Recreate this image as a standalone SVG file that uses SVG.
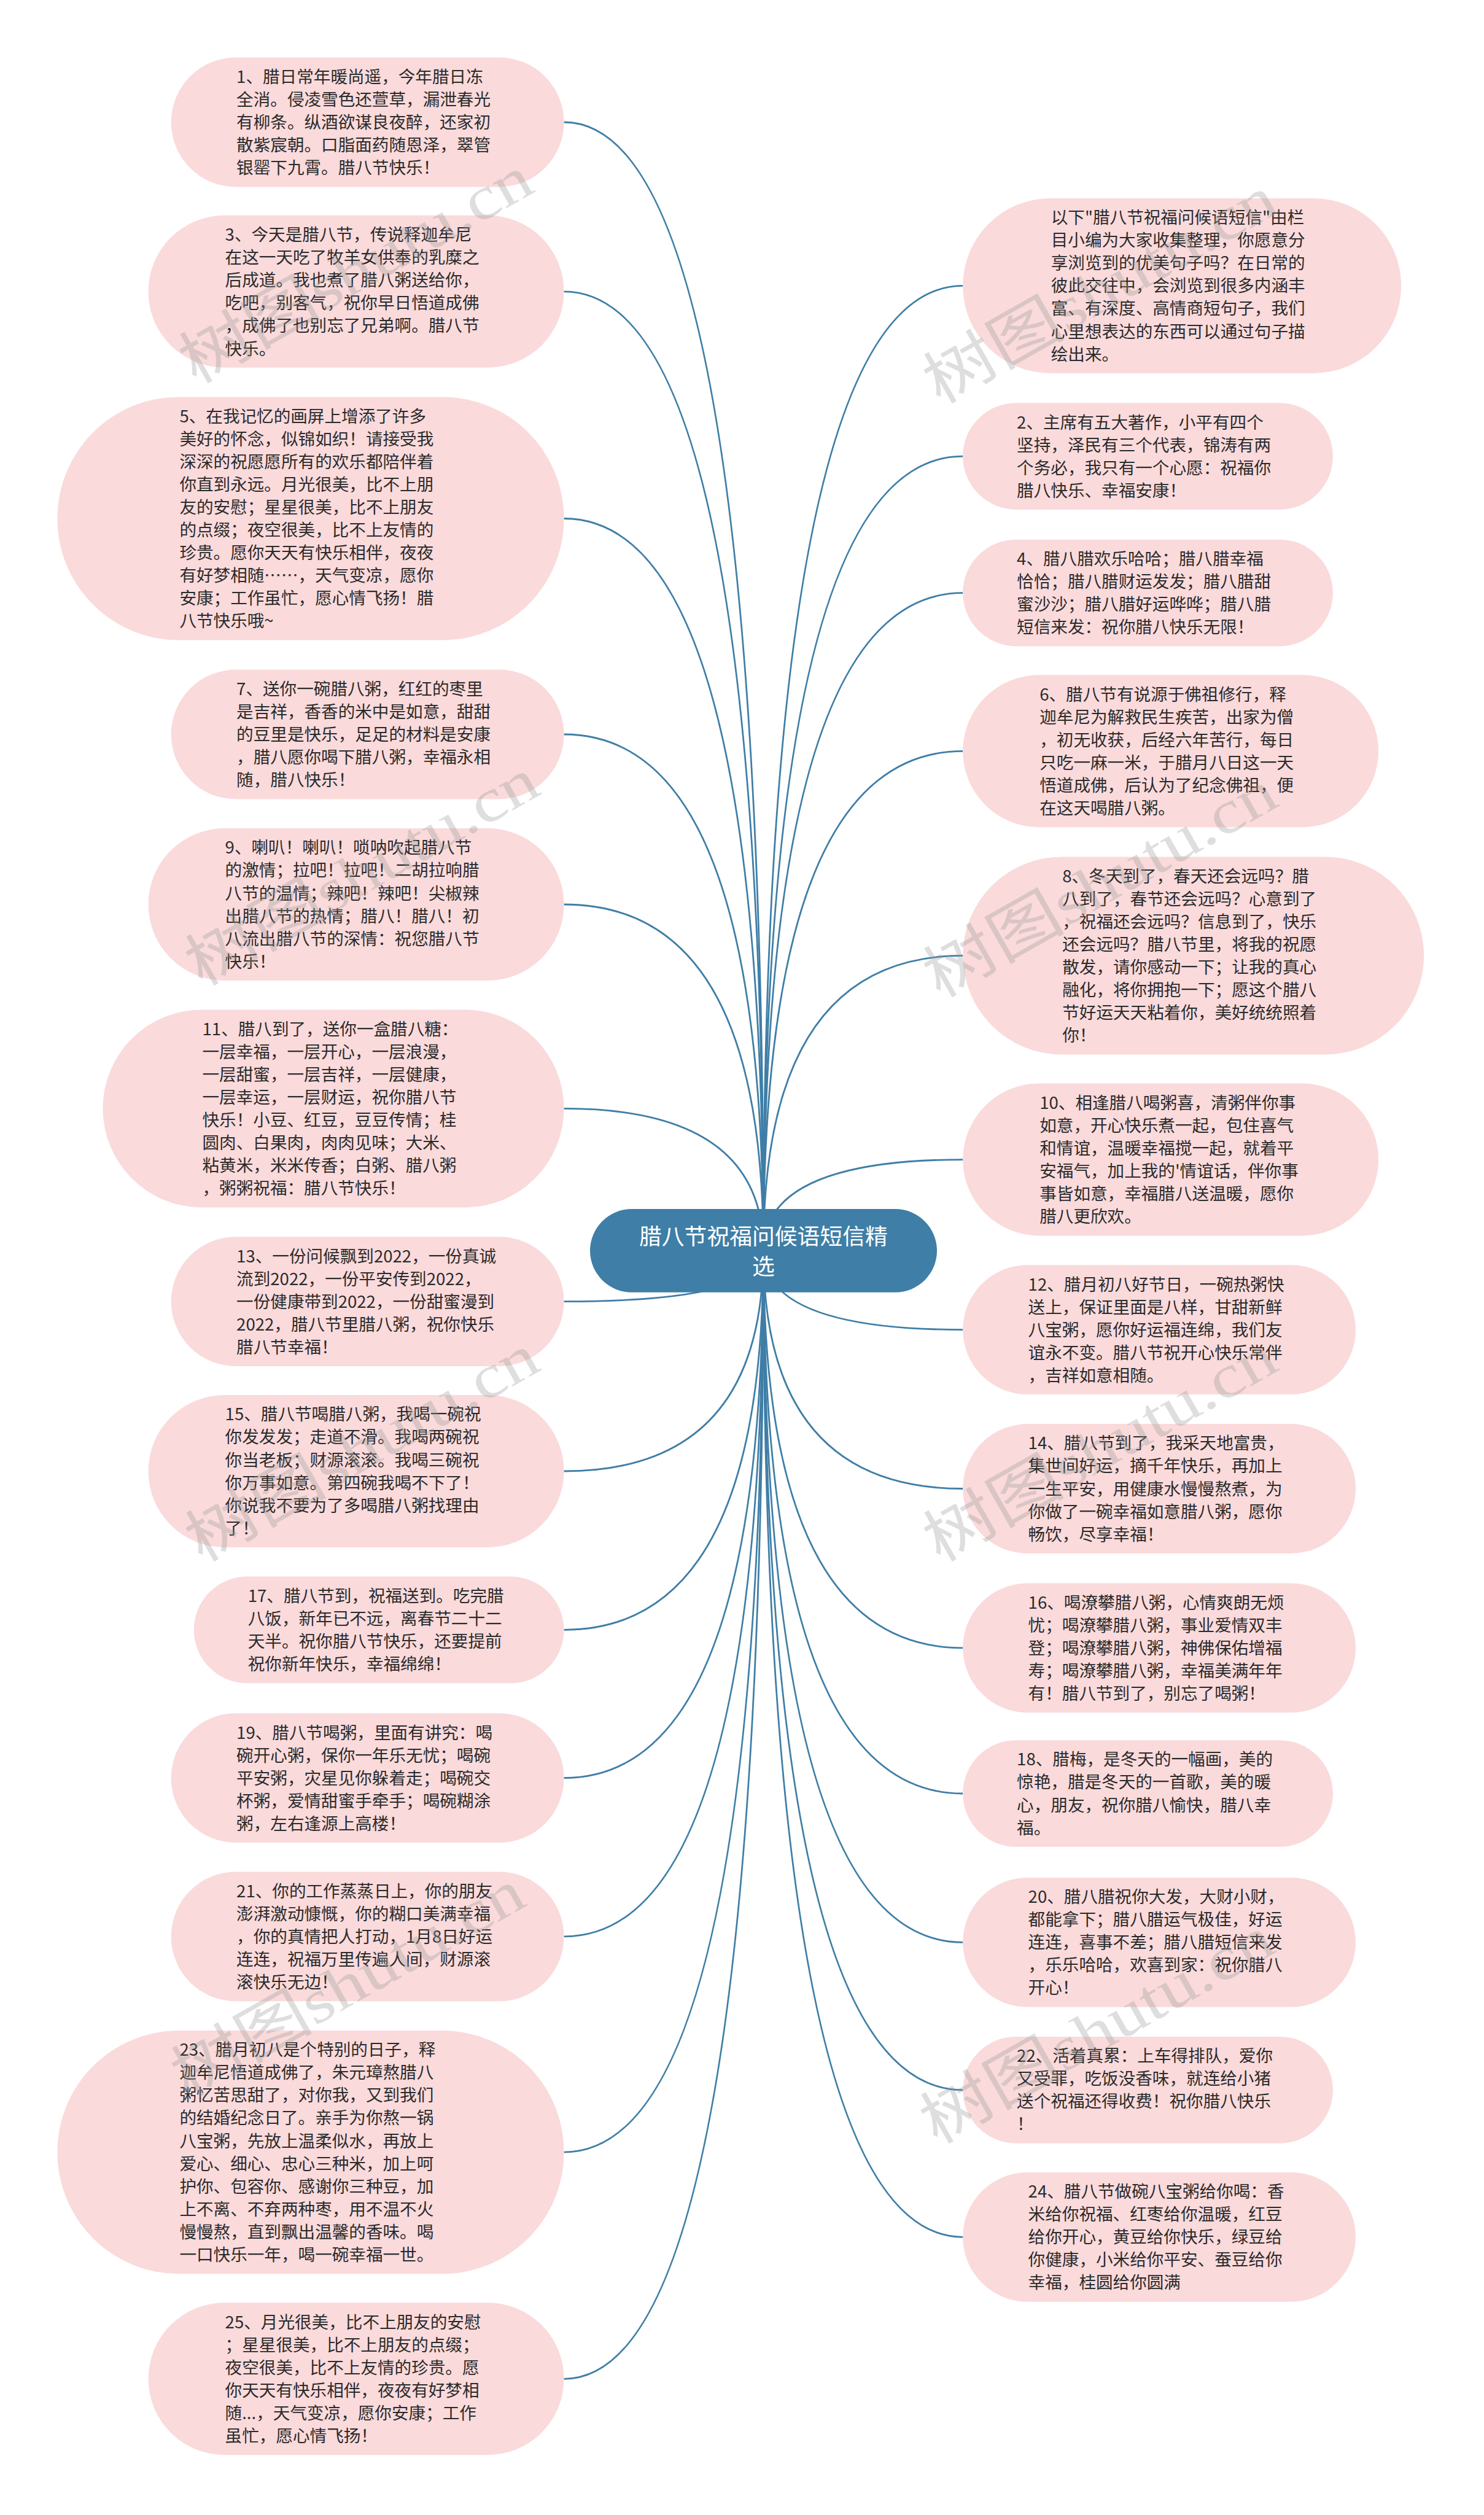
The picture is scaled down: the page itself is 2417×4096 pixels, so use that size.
<svg xmlns="http://www.w3.org/2000/svg" width="2417" height="4096" viewBox="0 0 2417 4096">
<style>
.node rect{fill:#fadadb;}
.node text{font-family:"Noto Sans CJK SC","Noto Sans",sans-serif;font-size:27.6px;fill:#2b2b2b;}
.conn path{fill:none;stroke:#3f7ea6;stroke-width:2.8;}
#center rect{fill:#3f7ea6;}
#center text{font-family:"Noto Sans CJK SC","Noto Sans",sans-serif;font-size:36.8px;fill:#ffffff;text-anchor:middle;}
.wm text{font-family:"Liberation Serif","Noto Sans CJK SC",serif;font-size:100px;fill:#9a9a9a;opacity:0.32;}
</style>
<rect x="0" y="0" width="2417" height="4096" fill="#ffffff"/>
<g class="conn" id="connectors">
<path d="M1243.3 2036.9 Q1243.3 199 918.5 199"/>
<path d="M1243.3 2036.9 Q1243.3 474.8 918.5 474.8"/>
<path d="M1243.3 2036.9 Q1243.3 844.5 918.5 844.5"/>
<path d="M1243.3 2036.9 Q1243.3 1196 918.5 1196"/>
<path d="M1243.3 2036.9 Q1243.3 1473 918.5 1473"/>
<path d="M1243.3 2036.9 Q1243.3 1805.4 918.5 1805.4"/>
<path d="M1243.3 2036.9 Q1243.3 2119.6 918.5 2119.6"/>
<path d="M1243.3 2036.9 Q1243.3 2396 918.5 2396"/>
<path d="M1243.3 2036.9 Q1243.3 2654.4 918.5 2654.4"/>
<path d="M1243.3 2036.9 Q1243.3 2895.7 918.5 2895.7"/>
<path d="M1243.3 2036.9 Q1243.3 3153.9 918.5 3153.9"/>
<path d="M1243.3 2036.9 Q1243.3 3505.1 918.5 3505.1"/>
<path d="M1243.3 2036.9 Q1243.3 3874.3 918.5 3874.3"/>
<path d="M1243.3 2036.9 Q1243.3 465.4 1568.2 465.4"/>
<path d="M1243.3 2036.9 Q1243.3 743.1 1568.2 743.1"/>
<path d="M1243.3 2036.9 Q1243.3 965.6 1568.2 965.6"/>
<path d="M1243.3 2036.9 Q1243.3 1223.3 1568.2 1223.3"/>
<path d="M1243.3 2036.9 Q1243.3 1556.4 1568.2 1556.4"/>
<path d="M1243.3 2036.9 Q1243.3 1888.6 1568.2 1888.6"/>
<path d="M1243.3 2036.9 Q1243.3 2165.6 1568.2 2165.6"/>
<path d="M1243.3 2036.9 Q1243.3 2424.5 1568.2 2424.5"/>
<path d="M1243.3 2036.9 Q1243.3 2683.8 1568.2 2683.8"/>
<path d="M1243.3 2036.9 Q1243.3 2921 1568.2 2921"/>
<path d="M1243.3 2036.9 Q1243.3 3163.3 1568.2 3163.3"/>
<path d="M1243.3 2036.9 Q1243.3 3403.8 1568.2 3403.8"/>
<path d="M1243.3 2036.9 Q1243.3 3643.3 1568.2 3643.3"/>
</g>
<g id="center">
<rect x="961" y="1969" width="565" height="135.8" rx="67.9"/>
<text x="1243.4" y="2027">腊八节祝福问候语短信精</text>
<text x="1243.4" y="2076">选</text>
</g>
<g class="node" id="n1">
<rect x="278.7" y="93.6" width="639.8" height="210.8" rx="105.4"/>
<text x="385.1" y="134.9"><tspan x="385.1">1、腊日常年暖尚遥，今年腊日冻</tspan><tspan x="385.1" dy="37.06">全消。侵凌雪色还萱草，漏泄春光</tspan><tspan x="385.1" dy="37.06">有柳条。纵酒欲谋良夜醉，还家初</tspan><tspan x="385.1" dy="37.06">散紫宸朝。口脂面药随恩泽，翠管</tspan><tspan x="385.1" dy="37.06">银罂下九霄。腊八节快乐！</tspan></text>
</g>
<g class="node" id="n3">
<rect x="241.6" y="350.8" width="676.9" height="247.9" rx="124"/>
<text x="366.6" y="392.2"><tspan x="366.6">3、今天是腊八节，传说释迦牟尼</tspan><tspan x="366.6" dy="37.06">在这一天吃了牧羊女供奉的乳糜之</tspan><tspan x="366.6" dy="37.06">后成道。我也煮了腊八粥送给你，</tspan><tspan x="366.6" dy="37.06">吃吧，别客气，祝你早日悟道成佛</tspan><tspan x="366.6" dy="37.06">，成佛了也别忘了兄弟啊。腊八节</tspan><tspan x="366.6" dy="37.06">快乐。</tspan></text>
</g>
<g class="node" id="n5">
<rect x="93.4" y="646.5" width="825.1" height="396.1" rx="198"/>
<text x="292.4" y="687.7"><tspan x="292.4">5、在我记忆的画屏上增添了许多</tspan><tspan x="292.4" dy="37.06">美好的怀念，似锦如织！请接受我</tspan><tspan x="292.4" dy="37.06">深深的祝愿愿所有的欢乐都陪伴着</tspan><tspan x="292.4" dy="37.06">你直到永远。月光很美，比不上朋</tspan><tspan x="292.4" dy="37.06">友的安慰；星星很美，比不上朋友</tspan><tspan x="292.4" dy="37.06">的点缀；夜空很美，比不上友情的</tspan><tspan x="292.4" dy="37.06">珍贵。愿你天天有快乐相伴，夜夜</tspan><tspan x="292.4" dy="37.06">有好梦相随……，天气变凉，愿你</tspan><tspan x="292.4" dy="37.06">安康；工作虽忙，愿心情飞扬！腊</tspan><tspan x="292.4" dy="37.06">八节快乐哦~</tspan></text>
</g>
<g class="node" id="n7">
<rect x="278.7" y="1090.6" width="639.8" height="210.8" rx="105.4"/>
<text x="385.1" y="1131.9"><tspan x="385.1">7、送你一碗腊八粥，红红的枣里</tspan><tspan x="385.1" dy="37.06">是吉祥，香香的米中是如意，甜甜</tspan><tspan x="385.1" dy="37.06">的豆里是快乐，足足的材料是安康</tspan><tspan x="385.1" dy="37.06">，腊八愿你喝下腊八粥，幸福永相</tspan><tspan x="385.1" dy="37.06">随，腊八快乐！</tspan></text>
</g>
<g class="node" id="n9">
<rect x="241.6" y="1349" width="676.9" height="247.9" rx="124"/>
<text x="366.6" y="1390.4"><tspan x="366.6">9、喇叭！喇叭！唢呐吹起腊八节</tspan><tspan x="366.6" dy="37.06">的激情；拉吧！拉吧！二胡拉响腊</tspan><tspan x="366.6" dy="37.06">八节的温情；辣吧！辣吧！尖椒辣</tspan><tspan x="366.6" dy="37.06">出腊八节的热情；腊八！腊八！初</tspan><tspan x="366.6" dy="37.06">八流出腊八节的深情：祝您腊八节</tspan><tspan x="366.6" dy="37.06">快乐！</tspan></text>
</g>
<g class="node" id="n11">
<rect x="167.5" y="1644.4" width="751" height="322" rx="161"/>
<text x="329.5" y="1685.7"><tspan x="329.5">11、腊八到了，送你一盒腊八糖：</tspan><tspan x="329.5" dy="37.06">一层幸福，一层开心，一层浪漫，</tspan><tspan x="329.5" dy="37.06">一层甜蜜，一层吉祥，一层健康，</tspan><tspan x="329.5" dy="37.06">一层幸运，一层财运，祝你腊八节</tspan><tspan x="329.5" dy="37.06">快乐！小豆、红豆，豆豆传情；桂</tspan><tspan x="329.5" dy="37.06">圆肉、白果肉，肉肉见味；大米、</tspan><tspan x="329.5" dy="37.06">粘黄米，米米传香；白粥、腊八粥</tspan><tspan x="329.5" dy="37.06">，粥粥祝福：腊八节快乐！</tspan></text>
</g>
<g class="node" id="n13">
<rect x="278.7" y="2014.2" width="639.8" height="210.8" rx="105.4"/>
<text x="385.1" y="2055.5"><tspan x="385.1">13、一份问候飘到2022，一份真诚</tspan><tspan x="385.1" dy="37.06">流到2022，一份平安传到2022，</tspan><tspan x="385.1" dy="37.06">一份健康带到2022，一份甜蜜漫到</tspan><tspan x="385.1" dy="37.06">2022，腊八节里腊八粥，祝你快乐</tspan><tspan x="385.1" dy="37.06">腊八节幸福！</tspan></text>
</g>
<g class="node" id="n15">
<rect x="241.6" y="2272" width="676.9" height="247.9" rx="124"/>
<text x="366.6" y="2313.4"><tspan x="366.6">15、腊八节喝腊八粥，我喝一碗祝</tspan><tspan x="366.6" dy="37.06">你发发发；走道不滑。我喝两碗祝</tspan><tspan x="366.6" dy="37.06">你当老板；财源滚滚。我喝三碗祝</tspan><tspan x="366.6" dy="37.06">你万事如意。第四碗我喝不下了！</tspan><tspan x="366.6" dy="37.06">你说我不要为了多喝腊八粥找理由</tspan><tspan x="366.6" dy="37.06">了！</tspan></text>
</g>
<g class="node" id="n17">
<rect x="315.8" y="2567.6" width="602.7" height="173.7" rx="86.85"/>
<text x="403.7" y="2608.8"><tspan x="403.7">17、腊八节到，祝福送到。吃完腊</tspan><tspan x="403.7" dy="37.06">八饭，新年已不远，离春节二十二</tspan><tspan x="403.7" dy="37.06">天半。祝你腊八节快乐，还要提前</tspan><tspan x="403.7" dy="37.06">祝你新年快乐，幸福绵绵！</tspan></text>
</g>
<g class="node" id="n19">
<rect x="278.7" y="2790.3" width="639.8" height="210.8" rx="105.4"/>
<text x="385.1" y="2831.6"><tspan x="385.1">19、腊八节喝粥，里面有讲究：喝</tspan><tspan x="385.1" dy="37.06">碗开心粥，保你一年乐无忧；喝碗</tspan><tspan x="385.1" dy="37.06">平安粥，灾星见你躲着走；喝碗交</tspan><tspan x="385.1" dy="37.06">杯粥，爱情甜蜜手牵手；喝碗糊涂</tspan><tspan x="385.1" dy="37.06">粥，左右逢源上高楼！</tspan></text>
</g>
<g class="node" id="n21">
<rect x="278.7" y="3048.5" width="639.8" height="210.8" rx="105.4"/>
<text x="385.1" y="3089.8"><tspan x="385.1">21、你的工作蒸蒸日上，你的朋友</tspan><tspan x="385.1" dy="37.06">澎湃激动慷慨，你的糊口美满幸福</tspan><tspan x="385.1" dy="37.06">，你的真情把人打动，1月8日好运</tspan><tspan x="385.1" dy="37.06">连连，祝福万里传遍人间，财源滚</tspan><tspan x="385.1" dy="37.06">滚快乐无边！</tspan></text>
</g>
<g class="node" id="n23">
<rect x="93.4" y="3307.1" width="825.1" height="396.1" rx="198"/>
<text x="292.4" y="3348.3"><tspan x="292.4">23、腊月初八是个特别的日子，释</tspan><tspan x="292.4" dy="37.06">迦牟尼悟道成佛了，朱元璋熬腊八</tspan><tspan x="292.4" dy="37.06">粥忆苦思甜了，对你我，又到我们</tspan><tspan x="292.4" dy="37.06">的结婚纪念日了。亲手为你熬一锅</tspan><tspan x="292.4" dy="37.06">八宝粥，先放上温柔似水，再放上</tspan><tspan x="292.4" dy="37.06">爱心、细心、忠心三种米，加上呵</tspan><tspan x="292.4" dy="37.06">护你、包容你、感谢你三种豆，加</tspan><tspan x="292.4" dy="37.06">上不离、不弃两种枣，用不温不火</tspan><tspan x="292.4" dy="37.06">慢慢熬，直到飘出温馨的香味。喝</tspan><tspan x="292.4" dy="37.06">一口快乐一年，喝一碗幸福一世。</tspan></text>
</g>
<g class="node" id="n25">
<rect x="241.6" y="3750.3" width="676.9" height="247.9" rx="124"/>
<text x="366.6" y="3791.7"><tspan x="366.6">25、月光很美，比不上朋友的安慰</tspan><tspan x="366.6" dy="37.06">；星星很美，比不上朋友的点缀；</tspan><tspan x="366.6" dy="37.06">夜空很美，比不上友情的珍贵。愿</tspan><tspan x="366.6" dy="37.06">你天天有快乐相伴，夜夜有好梦相</tspan><tspan x="366.6" dy="37.06">随...，天气变凉，愿你安康；工作</tspan><tspan x="366.6" dy="37.06">虽忙，愿心情飞扬！</tspan></text>
</g>
<g class="node" id="intro">
<rect x="1568.2" y="322.95" width="713.9" height="284.9" rx="142.45"/>
<text x="1711.7" y="364.2"><tspan x="1711.7">以下"腊八节祝福问候语短信"由栏</tspan><tspan x="1711.7" dy="37.06">目小编为大家收集整理，你愿意分</tspan><tspan x="1711.7" dy="37.06">享浏览到的优美句子吗？在日常的</tspan><tspan x="1711.7" dy="37.06">彼此交往中，会浏览到很多内涵丰</tspan><tspan x="1711.7" dy="37.06">富、有深度、高情商短句子，我们</tspan><tspan x="1711.7" dy="37.06">心里想表达的东西可以通过句子描</tspan><tspan x="1711.7" dy="37.06">绘出来。</tspan></text>
</g>
<g class="node" id="n2">
<rect x="1568.2" y="656.25" width="602.7" height="173.7" rx="86.85"/>
<text x="1656.1" y="697.5"><tspan x="1656.1">2、主席有五大著作，小平有四个</tspan><tspan x="1656.1" dy="37.06">坚持，泽民有三个代表，锦涛有两</tspan><tspan x="1656.1" dy="37.06">个务必，我只有一个心愿：祝福你</tspan><tspan x="1656.1" dy="37.06">腊八快乐、幸福安康！</tspan></text>
</g>
<g class="node" id="n4">
<rect x="1568.2" y="878.75" width="602.7" height="173.7" rx="86.85"/>
<text x="1656.1" y="920"><tspan x="1656.1">4、腊八腊欢乐哈哈；腊八腊幸福</tspan><tspan x="1656.1" dy="37.06">恰恰；腊八腊财运发发；腊八腊甜</tspan><tspan x="1656.1" dy="37.06">蜜沙沙；腊八腊好运哗哗；腊八腊</tspan><tspan x="1656.1" dy="37.06">短信来发：祝你腊八快乐无限！</tspan></text>
</g>
<g class="node" id="n6">
<rect x="1568.2" y="1099.3" width="676.9" height="247.9" rx="124"/>
<text x="1693.2" y="1140.7"><tspan x="1693.2">6、腊八节有说源于佛祖修行，释</tspan><tspan x="1693.2" dy="37.06">迦牟尼为解救民生疾苦，出家为僧</tspan><tspan x="1693.2" dy="37.06">，初无收获，后经六年苦行，每日</tspan><tspan x="1693.2" dy="37.06">只吃一麻一米，于腊月八日这一天</tspan><tspan x="1693.2" dy="37.06">悟道成佛，后认为了纪念佛祖，便</tspan><tspan x="1693.2" dy="37.06">在这天喝腊八粥。</tspan></text>
</g>
<g class="node" id="n8">
<rect x="1568.2" y="1395.4" width="751" height="322" rx="161"/>
<text x="1730.2" y="1436.7"><tspan x="1730.2">8、冬天到了，春天还会远吗？腊</tspan><tspan x="1730.2" dy="37.06">八到了，春节还会远吗？心意到了</tspan><tspan x="1730.2" dy="37.06">，祝福还会远吗？信息到了，快乐</tspan><tspan x="1730.2" dy="37.06">还会远吗？腊八节里，将我的祝愿</tspan><tspan x="1730.2" dy="37.06">散发，请你感动一下；让我的真心</tspan><tspan x="1730.2" dy="37.06">融化，将你拥抱一下；愿这个腊八</tspan><tspan x="1730.2" dy="37.06">节好运天天粘着你，美好统统照着</tspan><tspan x="1730.2" dy="37.06">你！</tspan></text>
</g>
<g class="node" id="n10">
<rect x="1568.2" y="1764.6" width="676.9" height="247.9" rx="124"/>
<text x="1693.2" y="1806"><tspan x="1693.2">10、相逢腊八喝粥喜，清粥伴你事</tspan><tspan x="1693.2" dy="37.06">如意，开心快乐煮一起，包住喜气</tspan><tspan x="1693.2" dy="37.06">和情谊，温暖幸福搅一起，就着平</tspan><tspan x="1693.2" dy="37.06">安福气，加上我的'情谊话，伴你事</tspan><tspan x="1693.2" dy="37.06">事皆如意，幸福腊八送温暖，愿你</tspan><tspan x="1693.2" dy="37.06">腊八更欣欢。</tspan></text>
</g>
<g class="node" id="n12">
<rect x="1568.2" y="2060.2" width="639.8" height="210.8" rx="105.4"/>
<text x="1674.6" y="2101.5"><tspan x="1674.6">12、腊月初八好节日，一碗热粥快</tspan><tspan x="1674.6" dy="37.06">送上，保证里面是八样，甘甜新鲜</tspan><tspan x="1674.6" dy="37.06">八宝粥，愿你好运福连绵，我们友</tspan><tspan x="1674.6" dy="37.06">谊永不变。腊八节祝开心快乐常伴</tspan><tspan x="1674.6" dy="37.06">，吉祥如意相随。</tspan></text>
</g>
<g class="node" id="n14">
<rect x="1568.2" y="2319.1" width="639.8" height="210.8" rx="105.4"/>
<text x="1674.6" y="2360.4"><tspan x="1674.6">14、腊八节到了，我采天地富贵，</tspan><tspan x="1674.6" dy="37.06">集世间好运，摘千年快乐，再加上</tspan><tspan x="1674.6" dy="37.06">一生平安，用健康水慢慢熬煮，为</tspan><tspan x="1674.6" dy="37.06">你做了一碗幸福如意腊八粥，愿你</tspan><tspan x="1674.6" dy="37.06">畅饮，尽享幸福！</tspan></text>
</g>
<g class="node" id="n16">
<rect x="1568.2" y="2578.4" width="639.8" height="210.8" rx="105.4"/>
<text x="1674.6" y="2619.7"><tspan x="1674.6">16、喝潦攀腊八粥，心情爽朗无烦</tspan><tspan x="1674.6" dy="37.06">忧；喝潦攀腊八粥，事业爱情双丰</tspan><tspan x="1674.6" dy="37.06">登；喝潦攀腊八粥，神佛保佑增福</tspan><tspan x="1674.6" dy="37.06">寿；喝潦攀腊八粥，幸福美满年年</tspan><tspan x="1674.6" dy="37.06">有！腊八节到了，别忘了喝粥！</tspan></text>
</g>
<g class="node" id="n18">
<rect x="1568.2" y="2834.15" width="602.7" height="173.7" rx="86.85"/>
<text x="1656.1" y="2875.4"><tspan x="1656.1">18、腊梅，是冬天的一幅画，美的</tspan><tspan x="1656.1" dy="37.06">惊艳，腊是冬天的一首歌，美的暖</tspan><tspan x="1656.1" dy="37.06">心，朋友，祝你腊八愉快，腊八幸</tspan><tspan x="1656.1" dy="37.06">福。</tspan></text>
</g>
<g class="node" id="n20">
<rect x="1568.2" y="3057.9" width="639.8" height="210.8" rx="105.4"/>
<text x="1674.6" y="3099.2"><tspan x="1674.6">20、腊八腊祝你大发，大财小财，</tspan><tspan x="1674.6" dy="37.06">都能拿下；腊八腊运气极佳，好运</tspan><tspan x="1674.6" dy="37.06">连连，喜事不差；腊八腊短信来发</tspan><tspan x="1674.6" dy="37.06">，乐乐哈哈，欢喜到家：祝你腊八</tspan><tspan x="1674.6" dy="37.06">开心！</tspan></text>
</g>
<g class="node" id="n22">
<rect x="1568.2" y="3316.95" width="602.7" height="173.7" rx="86.85"/>
<text x="1656.1" y="3358.2"><tspan x="1656.1">22、活着真累：上车得排队，爱你</tspan><tspan x="1656.1" dy="37.06">又受罪，吃饭没香味，就连给小猪</tspan><tspan x="1656.1" dy="37.06">送个祝福还得收费！祝你腊八快乐</tspan><tspan x="1656.1" dy="37.06">！</tspan></text>
</g>
<g class="node" id="n24">
<rect x="1568.2" y="3537.9" width="639.8" height="210.8" rx="105.4"/>
<text x="1674.6" y="3579.2"><tspan x="1674.6">24、腊八节做碗八宝粥给你喝：香</tspan><tspan x="1674.6" dy="37.06">米给你祝福、红枣给你温暖，红豆</tspan><tspan x="1674.6" dy="37.06">给你开心，黄豆给你快乐，绿豆给</tspan><tspan x="1674.6" dy="37.06">你健康，小米给你平安、蚕豆给你</tspan><tspan x="1674.6" dy="37.06">幸福，桂圆给你圆满</tspan></text>
</g>
<g class="wm" id="watermarks">
<text x="318" y="627" transform="rotate(-29.6 318 627)" textLength="640" lengthAdjust="spacingAndGlyphs">树图shutu.cn</text>
<text x="328" y="1608" transform="rotate(-29.6 328 1608)" textLength="640" lengthAdjust="spacingAndGlyphs">树图shutu.cn</text>
<text x="328" y="2546" transform="rotate(-29.6 328 2546)" textLength="640" lengthAdjust="spacingAndGlyphs">树图shutu.cn</text>
<text x="305" y="3418" transform="rotate(-29.6 305 3418)" textLength="640" lengthAdjust="spacingAndGlyphs">树图shutu.cn</text>
<text x="1530" y="660" transform="rotate(-29.6 1530 660)" textLength="640" lengthAdjust="spacingAndGlyphs">树图shutu.cn</text>
<text x="1530" y="1627" transform="rotate(-29.6 1530 1627)" textLength="640" lengthAdjust="spacingAndGlyphs">树图shutu.cn</text>
<text x="1530" y="2546" transform="rotate(-29.6 1530 2546)" textLength="640" lengthAdjust="spacingAndGlyphs">树图shutu.cn</text>
<text x="1525" y="3494" transform="rotate(-29.6 1525 3494)" textLength="640" lengthAdjust="spacingAndGlyphs">树图shutu.cn</text>
</g>
</svg>
